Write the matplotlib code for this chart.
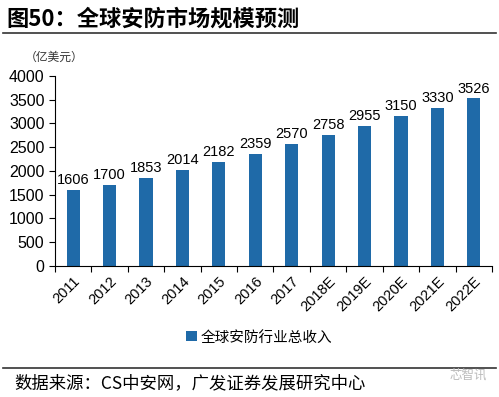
import matplotlib.pyplot as plt
from matplotlib.lines import Line2D

plt.rcParams['font.family'] = ['Noto Sans CJK SC', 'DejaVu Sans']

years = ['2011', '2012', '2013', '2014', '2015', '2016', '2017',
         '2018E', '2019E', '2020E', '2021E', '2022E']
revenue = [1606, 1700, 1853, 2014, 2182, 2359, 2570, 2758, 2955, 3150, 3330, 3526]
bar_colour = '#1f6aa8'

fig = plt.figure(figsize=(4.99, 3.97), dpi=100)
ax = fig.add_axes([0.110, 0.330, 0.876, 0.479])

x = range(len(years))
ax.bar(x, revenue, width=0.36, color=bar_colour, label='全球安防行业总收入')
for i, v in enumerate(revenue):
    ax.text(i, v + 60, str(v), ha='center', va='bottom', fontsize=10.5,
            family=['Liberation Sans', 'DejaVu Sans'])

ax.set_xlim(-0.5, len(years) - 0.5)
ax.set_ylim(0, 4000)
ax.set_yticks(range(0, 4001, 500))
ax.set_xticks([i - 0.5 for i in range(len(years) + 1)], minor=False)
ax.set_xticklabels([])
ax.set_xticks(list(x), minor=True)
ax.set_xticklabels(years, minor=True, rotation=45, ha='right', rotation_mode='anchor',
                   fontsize=10.5, family=['Liberation Sans', 'DejaVu Sans'])
ax.tick_params(axis='x', which='minor', length=0, pad=6)
ax.tick_params(axis='x', which='major', length=4, direction='out')
ax.tick_params(axis='y', length=4, labelsize=11.5)
for lab in ax.get_yticklabels():
    lab.set_family(['Liberation Sans', 'DejaVu Sans'])
for s in ['top', 'right']:
    ax.spines[s].set_visible(False)

ax.legend(loc='upper center', bbox_to_anchor=(0.468, -0.27), frameon=False,
          fontsize=10.5, handlelength=0.7, handleheight=0.7, handletextpad=0.3)

fig.text(0.012, 0.953, '图50：全球安防市场规模预测', fontsize=16, fontweight='bold', va='center')
fig.add_artist(Line2D([0.006, 0.994], [0.917, 0.917], color='#333333', lw=1.2))
fig.text(0.05, 0.856, '（亿美元）', fontsize=8.5, va='center', color='#333333')
fig.add_artist(Line2D([0.006, 0.994], [0.073, 0.073], color='#333333', lw=1.2))
fig.text(0.028, 0.035, '数据来源：CS中安网，广发证券发展研究中心', fontsize=12.5, va='center')
fig.text(0.90, 0.055, '芯智讯', fontsize=9, va='center', color='#bbbbbb')

fig.savefig('out.png', dpi=100)
